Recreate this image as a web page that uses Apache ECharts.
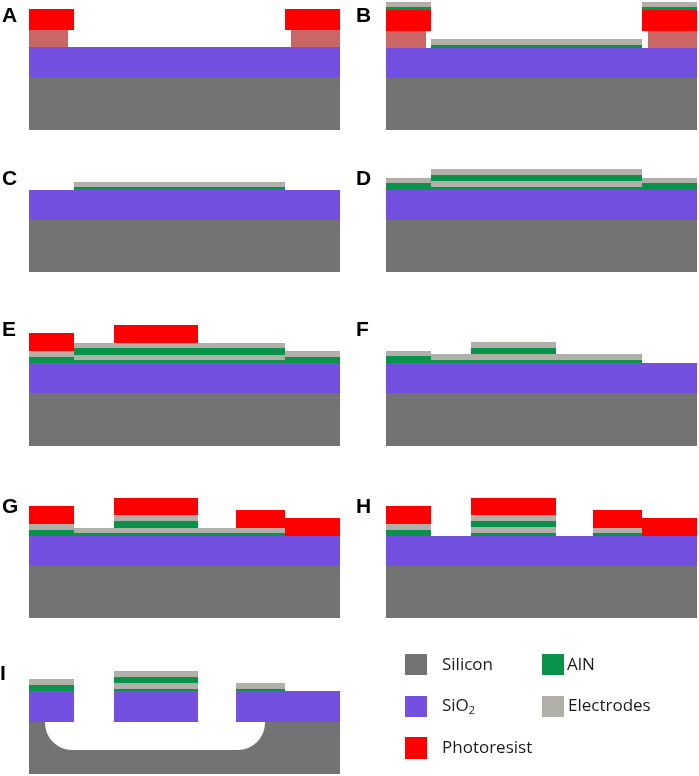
<!DOCTYPE html>
<html><head><meta charset="utf-8">
<style>html,body{margin:0;padding:0;background:#fff}#c{width:699px;height:776px}</style>
<script src="https://cdn.jsdelivr.net/npm/echarts@6/dist/echarts.min.js"></script>
</head><body><div id="c"></div>
<script>
// Each block: [left, top, right, bottom]
const silicon = [
 [29,77,340,130],[386,78,697,130],[29,220,340,272],[386,220,697,272],
 [29,393,340,446],[386,393,697,446],[29,566,340,618],[386,566,697,618],[29,722,340,774]];
const sio2 = [
 [29,47,340,77],[386,48,697,78],[29,190,340,220],[386,190,697,220],
 [29,363,340,393],[386,363,697,393],[29,536,340,566],[386,536,697,566],
 [29,691,74,722],[114,691,198,722],[236,691,340,722]];
const resist = [
 [29,9,74,30],[285,9,340,30],[386,10,431,31],[642,10,697,31],
 [29,333,74,351],[114,325,198,343],
 [29,506,74,524],[114,498,198,515],[236,510,285,528],[285,518,340,536],
 [386,506,431,524],[471,498,556,515],[593,510,642,528],[642,518,697,536]];
const resistFaded = [
 [29,30,68,47],[291,30,340,47],[386,31,426,48],[648,31,697,48]];
const aln = [
 [386,7,431,10],[642,7,697,10],[431,45,642,48],
 [74,187,285,190],
 [386,183,431,190],[642,183,697,190],[431,175,642,181],[431,187,642,190],
 [29,357,74,363],[285,357,340,363],[74,348,285,355],[74,360,285,363],
 [386,356,431,363],[431,360,642,363],[471,348,556,354],
 [29,530,74,536],[114,521,198,528],[74,533,285,536],
 [386,530,431,536],[471,521,556,527],[471,533,556,536],[593,533,642,536],
 [29,685,74,691],[114,677,198,683],[114,689,198,691],[236,689,285,691]];
const electrodes = [
 [386,2,431,7],[642,2,697,7],[431,39,642,45],
 [74,182,285,187],
 [431,169,642,175],[431,181,642,187],[386,178,431,183],[642,178,697,183],
 [29,351,74,357],[74,343,285,348],[74,355,285,360],[285,351,340,357],
 [386,351,431,356],[431,354,642,360],[471,342,556,348],
 [29,524,74,530],[114,515,198,521],[74,528,285,533],
 [386,524,431,530],[471,515,556,521],[471,527,556,533],[593,528,642,533],
 [29,679,74,685],[114,671,198,677],[114,683,198,689],[236,683,285,689]];
const cavity = [[45,722,265,750]];
const panelLabels = [
 ['A',2,16],['B',356,16],['C',2,179],['D',356,179],['E',2,330],['F',356,330],['G',2,507],['H',356,507],['I',0,674]];
const legendSwatches = [
 [405,654,427,675,'#737373'],[405,696,427,717,'#7350e0'],[405,737,427,759,'#ff0000'],
 [542,654,564,675,'#09934a'],[542,696,564,717,'#b0afa9']];
const legendLabels = [
 ['Silicon',442,665],['SiO{sub|2}',442,706],['Photoresist',442,748],['AlN',567,665],['Electrodes',568,706]];

const rectSeries = (data, color, radius) => ({
  type:'custom', coordinateSystem:'cartesian2d', silent:true, clip:false,
  encode:{x:[0,2],y:[1,3]}, data,
  renderItem:(p,api)=>{
    const a=api.coord([api.value(0),api.value(1)]), b=api.coord([api.value(2),api.value(3)]);
    const fill = color || data[p.dataIndex][4];
    return {type:'rect',shape:{x:a[0],y:a[1],width:b[0]-a[0],height:b[1]-a[1],r:radius||0},style:{fill}};
  }});
const textSeries = (data, style) => ({
  type:'custom', coordinateSystem:'cartesian2d', silent:true, clip:false,
  encode:{x:1,y:2}, data,
  renderItem:(p,api)=>{
    const a=api.coord([api.value(1),api.value(2)]);
    return {type:'text',x:a[0],y:a[1],style:Object.assign({text:data[p.dataIndex][0],verticalAlign:'middle',align:'left'},style)};
  }});

const chart = echarts.init(document.getElementById('c'),null,{renderer:'canvas'});
chart.setOption({
  animation:false, backgroundColor:'#fff', tooltip:{show:false},
  grid:{left:0,right:0,top:0,bottom:0},
  xAxis:{type:'value',min:0,max:699,show:false},
  yAxis:{type:'value',min:0,max:776,inverse:true,show:false},
  series:[
    rectSeries(silicon,'#737373'),
    rectSeries(cavity,'#ffffff',[0,0,27,27]),
    rectSeries(sio2,'#7350e0'),
    rectSeries(resistFaded,'#cc6666'),
    rectSeries(resist,'#ff0000'),
    rectSeries(aln,'#09934a'),
    rectSeries(electrodes,'#b0afa9'),
    rectSeries(legendSwatches),
    textSeries(panelLabels,{font:'bold 21px "Liberation Sans"',fill:'#000'}),
    textSeries(legendLabels,{font:'17px "Open Sans"',fill:'#1a1a1a',
      rich:{sub:{font:'11px "Open Sans"',fill:'#1a1a1a',verticalAlign:'bottom',padding:[9,0,0,0]}}})
  ]
});
</script></body></html>
